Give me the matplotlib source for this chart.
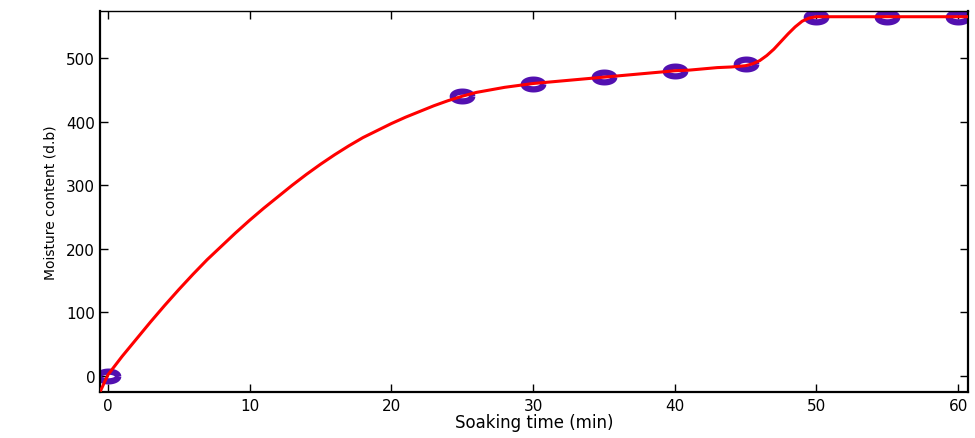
import matplotlib
matplotlib.use('Agg')
import matplotlib.pyplot as plt
import numpy as np
from matplotlib.path import Path
from matplotlib import font_manager

# measured points
time_pts = [0, 25, 30, 35, 40, 45, 50, 55, 60]
moisture_pts = [0, 440, 460, 470, 480, 490, 565, 565, 565]

# fitted curve
curve_t = [-0.5, 0, 1, 2, 3, 4, 5, 6, 7, 8, 9, 10, 11, 12, 13, 14, 15, 16, 17, 18, 19,
           20, 21, 22, 23, 24, 25, 26, 27, 28, 29, 30, 31, 32, 33, 34, 35, 36, 37, 38, 39,
           40, 41, 42, 43, 44, 45, 45.5, 46, 46.5, 47, 47.5, 48, 48.5, 49, 49.5, 50, 55, 60.7]
curve_m = [-22, 2, 31, 58, 85, 111, 136, 160, 183, 204, 225, 245, 264, 282, 300, 317, 333,
           348, 362, 375, 386, 397, 407, 416, 425, 433, 440, 446, 450, 454, 457, 460, 462,
           464, 466, 468, 470, 472, 474, 476, 478, 480, 481, 483, 485, 486, 488, 491, 496,
           504, 514, 526, 538, 549, 558, 563, 565, 565, 565]

# flattened ring marker
theta = np.linspace(0, 2 * np.pi, 60)
ellipse = Path(np.column_stack([np.cos(theta), 0.5 * np.sin(theta)]))

narrow = 'DejaVu Sans'
names = {f.name for f in font_manager.fontManager.ttflist}
if 'Liberation Sans Narrow' in names:
    narrow = 'Liberation Sans Narrow'

fig = plt.figure(figsize=(9.75, 4.39), dpi=100)
ax = fig.add_axes([100 / 975, 1 - 393 / 439, 868 / 975, 381 / 439])

ax.plot(time_pts, moisture_pts, linestyle='none', marker=ellipse, markersize=14,
        markerfacecolor='none', markeredgecolor='#5210b0', markeredgewidth=4.5, zorder=2)
ax.plot(curve_t, curve_m, color='#ff0000', linewidth=2.2, zorder=3)

ax.set_xlim(-0.56, 60.7)
ax.set_ylim(-25, 574)
ax.set_xticks(range(0, 61, 10))
ax.set_yticks(range(0, 501, 100))
ax.tick_params(direction='in', length=6, width=1, labelsize=11, top=True, right=True)
ax.tick_params(axis='x', pad=4)

ax.set_xlabel('Soaking time (min)', fontsize=12, labelpad=0)
ax.set_ylabel('Moisture content (d.b)', fontsize=12 if narrow != 'DejaVu Sans' else 10,
              family=narrow, labelpad=6)

for side in ['left', 'bottom', 'right']:
    ax.spines[side].set_linewidth(1.6)
ax.spines['top'].set_linewidth(1)

fig.savefig('out.png', dpi=100)
